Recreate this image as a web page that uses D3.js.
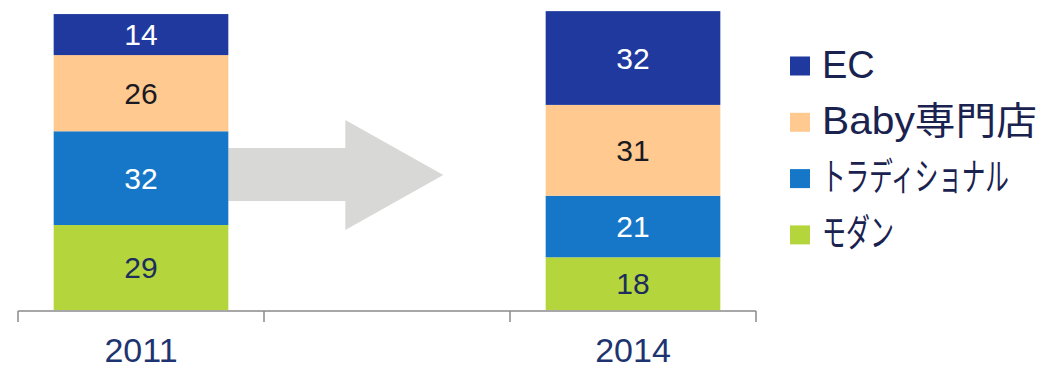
<!DOCTYPE html>
<html>
<head>
<meta charset="utf-8">
<script src="https://cdn.jsdelivr.net/npm/d3@7"></script>
<style>
  html, body { margin: 0; padding: 0; background: #fff; }
  svg { display: block; }
</style>
</head>
<body>
<svg id="chart" width="1047" height="370"></svg>
<script>
// Channel share (%) by year, stacked bottom to top
const years = ["2011", "2014"];
const slots = ["2011", "", "2014"];          // empty middle slot holds the arrow
const seriesNames = ["モダン", "トラディショナル", "Baby専門店", "EC"];
const modern = [29, 18];
const traditional = [32, 21];
const babyStore = [26, 31];
const ec = [14, 32];
const legendOrder = ["EC", "Baby専門店", "トラディショナル", "モダン"];

const seriesValues = [modern, traditional, babyStore, ec];
const colors = ["#b4d63c", "#1677c9", "#ffc98f", "#1f399e"];
const labelColors = ["#1c2d5e", "#ffffff", "#1a1a22", "#ffffff"];

const rows = years.map((yr, i) => {
  const r = { year: yr };
  seriesNames.forEach((s, k) => { r[s] = seriesValues[k][i]; });
  return r;
});

const svg = d3.select("#chart");
const baseY = 310;

const x = d3.scaleBand().domain(slots).range([18, 756])
  .paddingInner(0.29).paddingOuter(0.145);
const y = d3.scaleLinear().domain([0, 100]).range([baseY, 17]);

const stacked = d3.stack().keys(seriesNames)(rows);

// Arrow between the two bars
const ax0 = x("2011") + x.bandwidth();
const ax1 = ax0 + 215;
const ac = 175;
svg.append("path")
  .attr("d", d3.line()([
    [ax0, ac - 27], [ax1 - 98, ac - 27], [ax1 - 98, ac - 55], [ax1, ac],
    [ax1 - 98, ac + 55], [ax1 - 98, ac + 26], [ax0, ac + 26]
  ]) + "Z")
  .attr("fill", "#d8d8d6");

// Stacked bars
const layer = svg.selectAll("g.layer").data(stacked).join("g")
  .attr("class", "layer")
  .attr("fill", (d, i) => colors[i]);

layer.selectAll("rect").data(d => d).join("rect")
  .attr("x", d => x(d.data.year))
  .attr("width", x.bandwidth())
  .attr("y", d => y(d[1]))
  .attr("height", d => y(d[0]) - y(d[1]));

// Value labels
stacked.forEach((s, i) => {
  svg.selectAll(null).data(s).join("text")
    .attr("x", d => x(d.data.year) + x.bandwidth() / 2)
    .attr("y", d => (y(d[0]) + y(d[1])) / 2)
    .attr("dy", "0.36em")
    .attr("text-anchor", "middle")
    .attr("font-family", "Liberation Sans, Arial, sans-serif")
    .attr("font-size", 30)
    .attr("fill", labelColors[i])
    .text(d => d[1] - d[0]);
});

// Category axis with ticks at slot boundaries
const axisG = svg.append("g").attr("stroke", "#8a8a8a").attr("stroke-width", 1.5);
const r = x.range();
axisG.append("line").attr("x1", r[0]).attr("x2", r[1]).attr("y1", baseY + 1).attr("y2", baseY + 1);
const bounds = slots.map(s => x(s) - x.step() * x.paddingInner() / 2);
bounds[0] = r[0];
bounds.push(r[1]);
axisG.selectAll("line.tick").data(bounds).join("line")
  .attr("class", "tick")
  .attr("x1", d => d).attr("x2", d => d)
  .attr("y1", baseY + 1).attr("y2", baseY + 12);

svg.selectAll("text.year").data(years).join("text")
  .attr("class", "year")
  .attr("x", d => x(d) + x.bandwidth() / 2)
  .attr("y", 362)
  .attr("text-anchor", "middle")
  .attr("font-family", "Liberation Sans, Arial, sans-serif")
  .attr("font-size", 34)
  .attr("fill", "#1d3470")
  .text(d => d);

// Legend: condensed labels are squeezed horizontally to their target width
const legendWidths = { "EC": null, "Baby専門店": 215, "トラディショナル": 187, "モダン": 72 };
const lg = svg.append("g").attr("transform", "translate(790,0)");
legendOrder.forEach((name, i) => {
  const cy = 66 + i * 56.3;
  const k = seriesNames.indexOf(name);
  lg.append("rect")
    .attr("x", 0).attr("y", cy - 9.5)
    .attr("width", 20).attr("height", 19)
    .attr("fill", colors[k]);
  const holder = lg.append("g").attr("transform", `translate(32,${cy + 11.5})`);
  const t = holder.append("text")
    .attr("x", 0).attr("y", 0)
    .attr("font-family", "Liberation Sans, Arial, 'Noto Sans CJK JP', sans-serif")
    .attr("font-size", 38)
    .attr("fill", "#1a2250")
    .text(name);
  if (legendWidths[name]) {
    const w = t.node().getComputedTextLength();
    holder.attr("transform", `translate(32,${cy + 11.5}) scale(${legendWidths[name] / w},1)`);
  }
});
</script>
</body>
</html>
